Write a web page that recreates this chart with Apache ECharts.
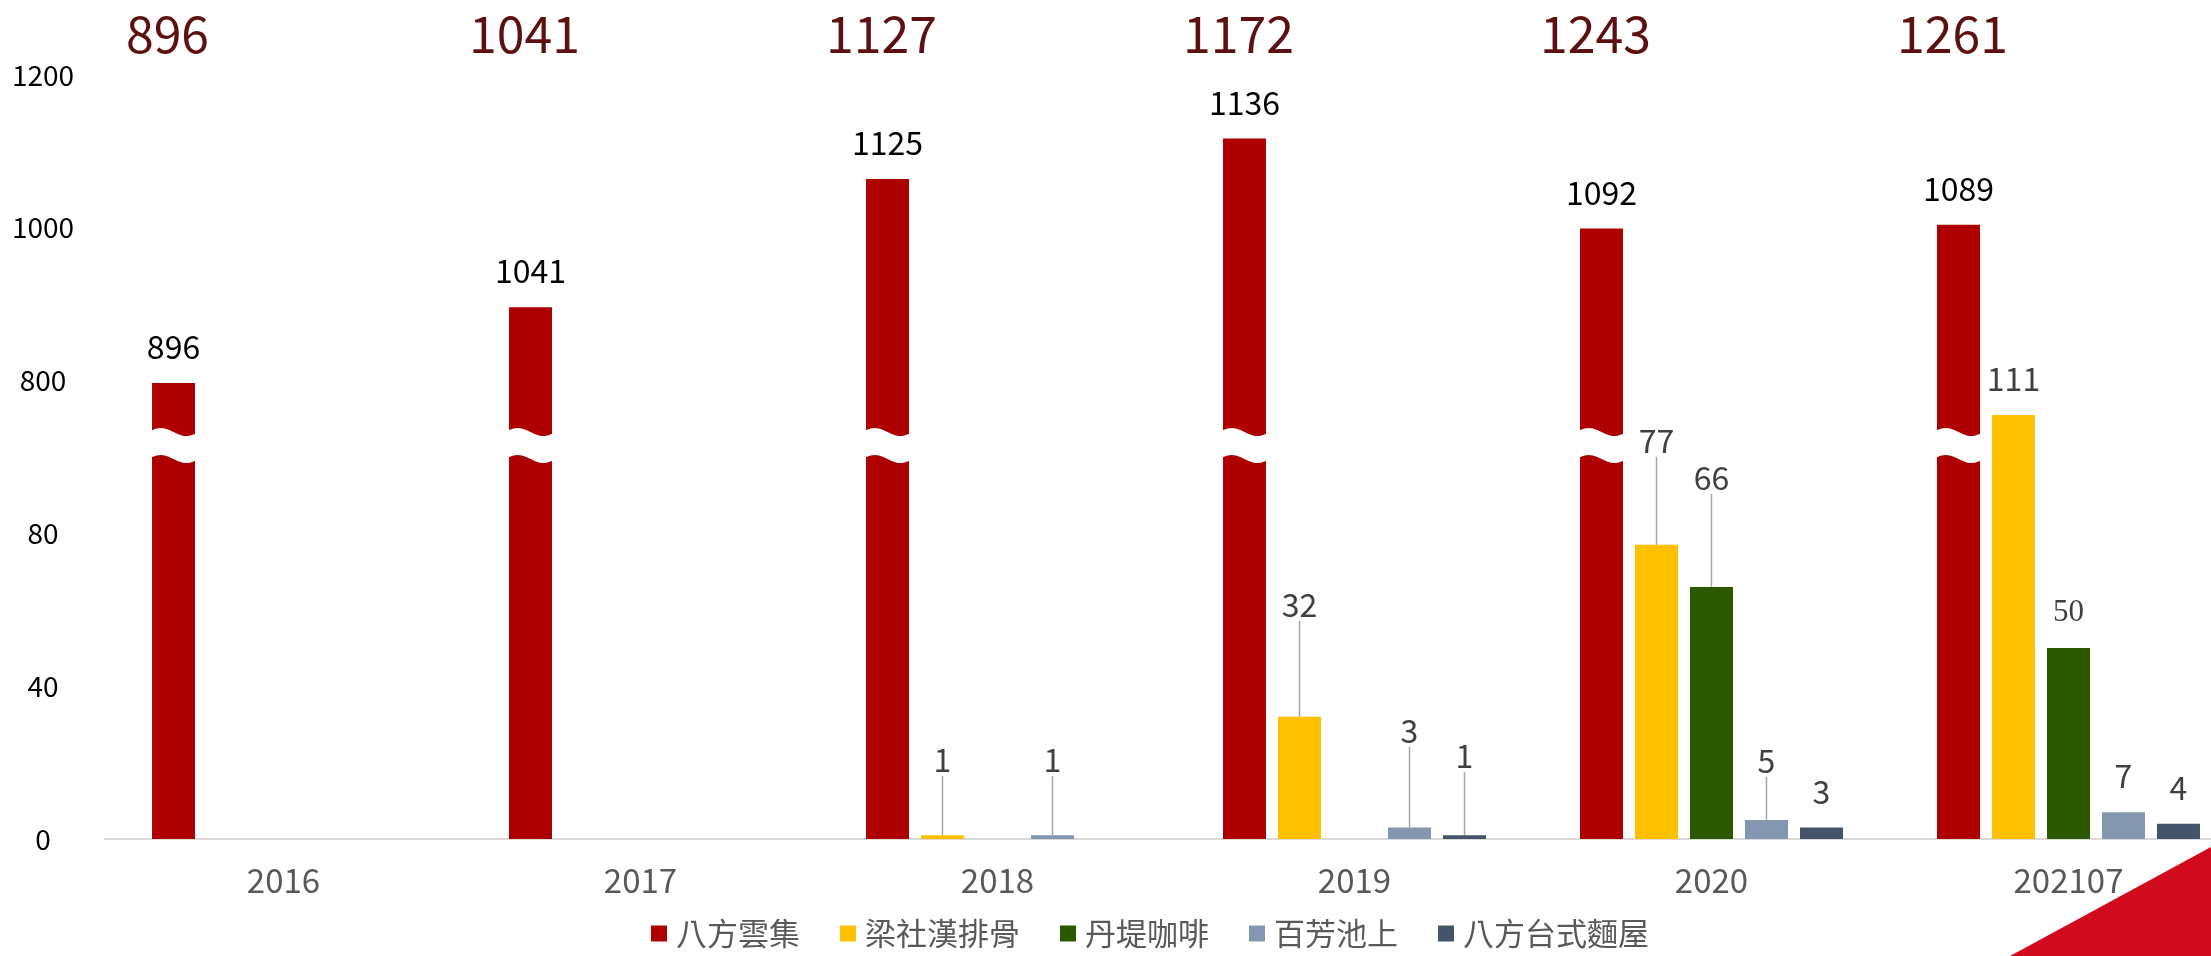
<!DOCTYPE html>
<html>
<head>
<meta charset="utf-8">
<script src="https://cdn.jsdelivr.net/npm/echarts@6/dist/echarts.min.js"></script>
<style>
html,body{margin:0;padding:0;background:#ffffff;}
#chart{width:2211px;height:956px;}
</style>
</head>
<body>
<div id="chart"></div>
<script>
// ---------------- data ----------------
const categories = ['2016', '2017', '2018', '2019', '2020', '202107'];
const seriesNames = ['八方雲集', '梁社漢排骨', '丹堤咖啡', '百芳池上', '八方台式麵屋'];
// 八方雲集: the values written on the bars
const bafangValues = [896, 1041, 1125, 1136, 1092, 1089];
// 八方雲集: where each bar top is drawn, read against the upper (800–1200) axis segment
const bafangDrawnAt = [797, 896, 1064, 1117, 999, 1004];
const liangValues = [null, null, 1, 32, 77, 111];
const danteValues = [null, null, null, null, 66, 50];
const baifangValues = [null, null, 1, 3, 5, 7];
const noodleValues = [null, null, null, 1, 3, 4];
const yTickLabels = ['0', '40', '80', '800', '1000', '1200'];

// ---------------- broken axis mapping ----------------
// lower segment: 0..120 linear; upper segment: 800 at 120, 1000 at 160, 1200 at 200
function toAxis(v) { return v > 120 ? 120 + (v - 800) / 5 : v; }
const BREAK_AT = 103;

const totals = categories.map((c, i) =>
  [bafangValues, liangValues, danteValues, baifangValues, noodleValues]
    .reduce((s, arr) => s + (arr[i] || 0), 0));

const FONT = '"Noto Sans CJK TC", "Noto Sans", sans-serif';
const colors = ['#AE0000', '#FFC000', '#2C5800', '#8497B0', '#44546A'];
const BAR_W = 43, BAR_GAP = 12;
const groupW = 5 * BAR_W + 4 * BAR_GAP;
const firstBarOffset = -groupW / 2 + BAR_W / 2;

// label lifts (px, extra distance above the default label spot) — styling only
const lifts = {
  1: {2: 39, 3: 76, 4: 68},
  2: {4: 73},
  3: {2: 39, 3: 61, 4: 23},
  4: {3: 43}
};

function smallItems(arr, sIdx) {
  return arr.map((v, i) => {
    if (v == null) return '-';
    const lift = (lifts[sIdx] && lifts[sIdx][i]) || 0;
    const item = { value: v, labelLine: { show: lift > 0 } };
    if (sIdx === 2 && i === 5) {
      item.label = { fontFamily: '"Liberation Serif", serif', fontSize: 31 };
    }
    return item;
  });
}

function smallSeries(name, arr, sIdx) {
  return {
    name: name,
    type: 'bar',
    barWidth: BAR_W,
    barGap: (BAR_GAP / BAR_W * 100).toFixed(1) + '%',
    itemStyle: { color: colors[sIdx] },
    data: smallItems(arr, sIdx),
    label: {
      show: true, position: 'top', distance: 20,
      color: '#404040', fontSize: 32, fontFamily: FONT
    },
    labelLine: { show: false, lineStyle: { color: '#A6A6A6', width: 1.5 } },
    labelLayout: function (p) {
      const l = (lifts[sIdx] && lifts[sIdx][p.dataIndex]) || 0;
      return l ? { dy: -l } : {};
    },
    z: 2
  };
}

const chart = echarts.init(document.getElementById('chart'), null, { renderer: 'canvas' });

const option = {
  backgroundColor: '#ffffff',
  animation: false,
  grid: { left: 105, top: 75, width: 2142, bottom: 117, outerBoundsMode: 'none', containLabel: false },
  legend: {
    data: seriesNames,
    bottom: 2,
    left: 646,
    icon: 'rect',
    itemWidth: 16,
    itemHeight: 16,
    itemGap: 40,
    textStyle: { fontSize: 31, color: '#595959', fontFamily: FONT, padding: [0, 0, 0, 4] }
  },
  xAxis: {
    type: 'category',
    data: categories,
    axisTick: { show: false },
    axisLine: { lineStyle: { color: '#D9D9D9', width: 2 } },
    axisLabel: { fontSize: 33, color: '#595959', margin: 25, fontFamily: FONT }
  },
  yAxis: {
    type: 'value',
    min: 0, max: 200, interval: 40,
    splitLine: { show: false },
    axisLine: { show: false },
    axisTick: { show: false },
    axisLabel: {
      formatter: v => yTickLabels[Math.round(v / 40)],
      align: 'center', margin: 62,
      fontSize: 28, color: '#000000', fontFamily: FONT
    }
  },
  series: [
    {
      name: seriesNames[0],
      type: 'bar',
      barWidth: BAR_W,
      barGap: (BAR_GAP / BAR_W * 100).toFixed(1) + '%',
      itemStyle: { color: colors[0] },
      data: bafangDrawnAt.map(v => toAxis(v)),
      label: {
        show: true, position: 'top', distance: 20,
        color: '#000000', fontSize: 32, fontFamily: FONT,
        formatter: p => String(bafangValues[p.dataIndex])
      },
      z: 2
    },
    smallSeries(seriesNames[1], liangValues, 1),
    smallSeries(seriesNames[2], danteValues, 2),
    smallSeries(seriesNames[3], baifangValues, 3),
    smallSeries(seriesNames[4], noodleValues, 4),
    {
      // break marks on the 八方雲集 bars
      type: 'custom',
      silent: true,
      z: 5,
      data: categories.map((c, i) => [i, BREAK_AT]),
      renderItem: function (params, api) {
        const c = api.coord([api.value(0), api.value(1)]);
        const cx = c[0] + firstBarOffset;
        const x0 = cx - BAR_W / 2 - 4, x1 = cx + BAR_W / 2 + 4;
        const amp = 4, half = 13.5;
        const pts = [];
        const N = 24;
        for (let k = 0; k <= N; k++) {
          const t = k / N;
          pts.push([x0 + (x1 - x0) * t, c[1] - half - amp * Math.sin(2 * Math.PI * t)]);
        }
        for (let k = N; k >= 0; k--) {
          const t = k / N;
          pts.push([x0 + (x1 - x0) * t, c[1] + half - amp * Math.sin(2 * Math.PI * t)]);
        }
        return { type: 'polygon', shape: { points: pts }, style: { fill: '#ffffff' } };
      }
    },
    {
      // totals above each year
      type: 'custom',
      silent: true,
      z: 6,
      data: categories.map((c, i) => [i, totals[i]]),
      renderItem: function (params, api) {
        const x = api.coord([api.value(0), 0])[0] + firstBarOffset - 6;
        return {
          type: 'text',
          x: x, y: 34,
          style: {
            text: String(api.value(1)),
            fontSize: 50, fill: '#5E1010', fontFamily: FONT,
            align: 'center', verticalAlign: 'middle'
          }
        };
      }
    }
  ],
  graphic: [
    {
      type: 'polygon',
      shape: { points: [[2211, 847], [2211, 956], [2010, 956]] },
      style: { fill: '#D20A1E' },
      z: 100
    }
  ]
};

chart.setOption(option);
</script>
</body>
</html>
